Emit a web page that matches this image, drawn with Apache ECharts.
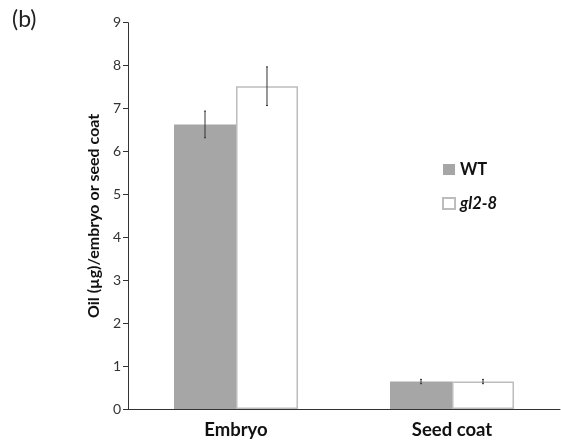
<!DOCTYPE html>
<html><head><meta charset="utf-8">
<script src="https://cdn.jsdelivr.net/npm/echarts@6/dist/echarts.min.js"></script>
<style>html,body{margin:0;padding:0;background:#fff}#c{width:561px;height:440px}</style>
</head><body><div id="c"></div>
<script>
var categories = ['Embryo', 'Seed coat'];
var wtValues = [6.63, 0.64];
var wtErr = [0.31, 0.05];
var gl2Values = [7.52, 0.64];
var gl2Err = [0.45, 0.05];
var yTicks = [0, 1, 2, 3, 4, 5, 6, 7, 8, 9];

var FONT = 'Lato, "Open Sans", sans-serif';
var GAP = 0.426;
function errSeries(vals, errs, side) {
  return {
    type: 'custom',
    silent: true,
    z: 10,
    data: vals.map(function (v, i) { return [i, v, errs[i]]; }),
    renderItem: function (params, api) {
      var bw = api.size([1, 0])[0] * (1 - GAP) / 2;
      var c = api.coord([api.value(0), api.value(1)]);
      var x = c[0] + side * bw / 2;
      var top = api.coord([api.value(0), api.value(1) + api.value(2)])[1];
      var bot = api.coord([api.value(0), api.value(1) - api.value(2)])[1];
      var st = { stroke: '#333', lineWidth: 1 };
      return { type: 'group', children: [
        { type: 'line', shape: { x1: x, y1: top, x2: x, y2: bot }, style: st },
        { type: 'line', shape: { x1: x - 1, y1: top, x2: x + 1, y2: top }, style: st },
        { type: 'line', shape: { x1: x - 1, y1: bot, x2: x + 1, y2: bot }, style: st }
      ]};
    }
  };
}

var chart = echarts.init(document.getElementById('c'));
chart.setOption({
  animation: false,
  graphic: [{ type: 'text', left: 12, top: 8, style: { text: '(b)', font: '23px ' + FONT, fill: '#222' } }],
  grid: { left: 128, right: 1, top: 22.7, bottom: 31 },
  legend: {
    orient: 'vertical', left: 437, top: 156, itemWidth: 12, itemHeight: 11, itemGap: 17,
    icon: 'rect',
    data: [
      { name: 'WT', textStyle: { fontWeight: 'bold', fontSize: 16.5, color: '#111', fontFamily: FONT } },
      { name: 'gl2-8', textStyle: { fontWeight: 'bold', fontStyle: 'italic', fontSize: 16.5, color: '#111', fontFamily: FONT } }
    ]
  },
  xAxis: {
    type: 'category', data: categories, z: 5,
    axisLine: { lineStyle: { color: '#333', width: 1 } },
    axisTick: { length: 5, lineStyle: { color: '#333' } },
    axisLabel: { margin: 12, fontSize: 18.5, fontWeight: 'bold', color: '#111', fontFamily: FONT }
  },
  yAxis: {
    type: 'value', min: 0, max: 9, interval: 1, z: 5,
    name: 'Oil (µg)/embryo or seed coat', nameLocation: 'middle', nameGap: 24,
    nameTextStyle: { fontSize: 16, fontWeight: 'bold', color: '#111', fontFamily: FONT },
    axisLine: { show: true, lineStyle: { color: '#333', width: 1 } },
    axisTick: { show: true, length: 5, inside: false, lineStyle: { color: '#333' } },
    axisLabel: { margin: 7, fontSize: 14, color: '#333', fontFamily: FONT,
      formatter: function (v) { return yTicks.indexOf(v) >= 0 ? String(v) : ''; } },
    splitLine: { show: false }
  },
  series: [
    { name: 'WT', type: 'bar', data: wtValues, barGap: '0%', barCategoryGap: (GAP * 100) + '%',
      itemStyle: { color: '#a6a6a6' } },
    { name: 'gl2-8', type: 'bar', data: gl2Values,
      itemStyle: { color: '#ffffff', borderColor: '#bdbdbd', borderWidth: 1.5 } },
    errSeries(wtValues, wtErr, -1),
    errSeries(gl2Values, gl2Err, 1)
  ]
});
</script></body></html>
